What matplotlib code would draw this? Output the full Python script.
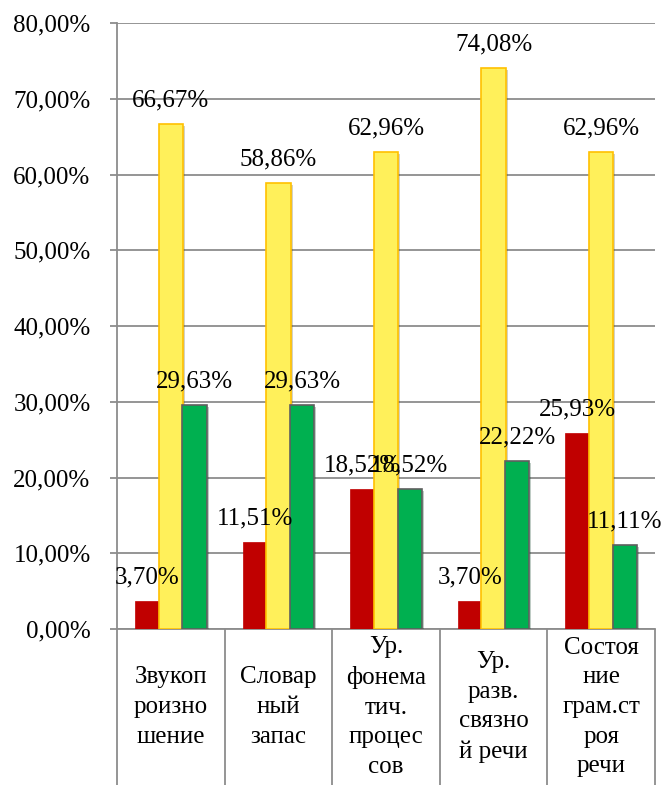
import matplotlib
matplotlib.use('Agg')
import matplotlib.pyplot as plt
import matplotlib.patheffects as pe
from matplotlib.transforms import blended_transform_factory
import numpy as np

plt.rcParams['font.family'] = ['Liberation Serif', 'DejaVu Serif']

categories = ['Звукоп\nроизно\nшение', 'Словар\nный\nзапас', 'Ур.\nфонема\nтич.\nпроцес\nсов',
              'Ур.\nразв.\nсвязно\nй речи', 'Состоя\nние\nграм.ст\nроя\nречи']
red_vals = [3.70, 11.51, 18.52, 3.70, 25.93]
yellow_vals = [66.67, 58.86, 62.96, 74.08, 62.96]
green_vals = [29.63, 29.63, 18.52, 22.22, 11.11]
yticks = [0, 10, 20, 30, 40, 50, 60, 70, 80]

FS = 18
grid_col = '#8c8c8c'


def fmt(v):
    return ('%.2f%%' % v).replace('.', ',')


fig = plt.figure(figsize=(6.66, 7.85), dpi=100)
ax = fig.add_axes([117 / 666, 156 / 785, 538 / 666, 606 / 785])

x = np.arange(len(categories))
w = 0.225
off = 0.22
shadow = [pe.SimplePatchShadow(offset=(1.5, -1.5), alpha=0.25), pe.Normal()]

series = [
    (red_vals, -off, '#C00000', '#C00000', 0.5),
    (yellow_vals, 0, '#FFF05A', '#FFC000', 1.2),
    (green_vals, off, '#00B050', '#5f5f5f', 1.2),
]
for vals, dx, fc, ec, lw in series:
    bars = ax.bar(x + dx, vals, width=w, color=fc, edgecolor=ec, linewidth=lw, zorder=3)
    for b in bars:
        b.set_path_effects(shadow)
    for xi, v in zip(x + dx, vals):
        ax.annotate(fmt(v), (xi, v), xytext=(0, 9), textcoords='offset points',
                    ha='center', va='bottom', fontsize=FS, zorder=5)

ax.set_xlim(-0.5, len(categories) - 0.5)
ax.set_ylim(0, 80)
ax.set_yticks(yticks)
ax.set_yticklabels([fmt(t) for t in yticks], fontsize=FS)
ax.yaxis.grid(True, color=grid_col, linewidth=1.3, zorder=0)
ax.set_axisbelow(True)
ax.tick_params(axis='y', length=5, width=1.3, color=grid_col, pad=14)

# category boundary lines below axis
ax.set_xticks(np.arange(-0.5, len(categories)), minor=True)
ax.set_xticks([])
ax.tick_params(axis='x', which='minor', length=115, width=1.3, color=grid_col, direction='out')

trans = blended_transform_factory(ax.transData, ax.transAxes)
for xi, lab in zip(x, categories):
    ax.text(xi, -78 / 606, lab, transform=trans, ha='center', va='center',
            fontsize=FS, linespacing=1.45)

for s in ['top', 'right']:
    ax.spines[s].set_visible(False)
ax.spines['left'].set_color(grid_col)
ax.spines['left'].set_linewidth(1.3)
ax.spines['bottom'].set_color(grid_col)
ax.spines['bottom'].set_linewidth(1.3)

fig.savefig('out.png', dpi=100)
